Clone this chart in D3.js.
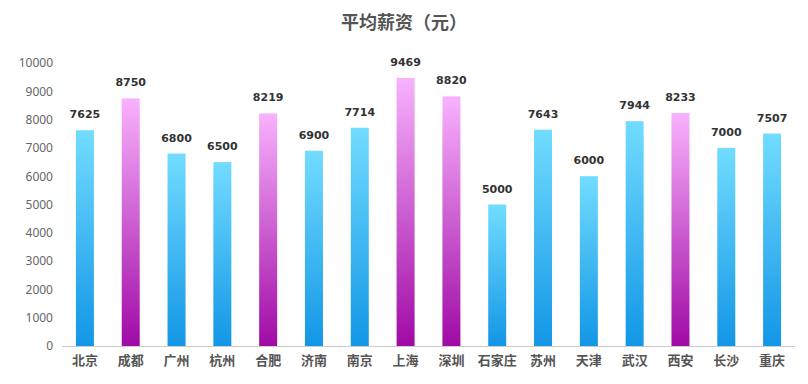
<!DOCTYPE html>
<html>
<head>
<meta charset="utf-8">
<script src="https://cdn.jsdelivr.net/npm/d3@7"></script>
<style>
  body { margin: 0; background: #fff; }
  text { font-family: "Microsoft YaHei", "Noto Sans CJK SC", sans-serif; }
</style>
</head>
<body>
<div id="chart"></div>
<script>
let cities = ["北京", "成都", "广州", "杭州", "合肥", "济南", "南京", "上海",
  "深圳", "石家庄", "苏州", "天津", "武汉", "西安", "长沙", "重庆"]
let salaries = [7625, 8750, 6800, 6500, 8219, 6900, 7714, 9469,
  8820, 5000, 7643, 6000, 7944, 8233, 7000, 7507]
let yTicks = [0, 1000, 2000, 3000, 4000, 5000, 6000, 7000, 8000, 9000, 10000]
let title = "平均薪资（元）"

let W = 808, H = 384
let plotLeft = 62, plotRight = 795, plotTop = 63, plotBottom = 346

let svg = d3.select("#chart").append("svg")
  .attr("width", W)
  .attr("height", H)

// グラデーション
let defs = svg.append("defs")
function grad(id, c1, c2) {
  let g = defs.append("linearGradient").attr("id", id)
    .attr("x1", 0).attr("y1", 0).attr("x2", 0).attr("y2", 1)
  g.append("stop").attr("offset", "0%").attr("stop-color", c1)
  g.append("stop").attr("offset", "100%").attr("stop-color", c2)
}
grad("blue", "#72dcff", "#1296e6")
grad("pink", "#f8b2fd", "#a00aa5")

let x = d3.scaleBand().domain(cities).range([plotLeft, plotRight])
let y = d3.scaleLinear().domain([0, 10000]).range([plotBottom, plotTop])
let barW = 18

// タイトル
svg.append("text")
  .attr("x", W / 2).attr("y", 29)
  .attr("text-anchor", "middle")
  .attr("font-size", "18px")
  .attr("font-weight", "bold")
  .attr("fill", "#555")
  .text(title)

// Y軸
let gy = svg.append("g")
  .attr("transform", `translate(${plotLeft},0)`)
  .call(d3.axisLeft(y).tickValues(yTicks).tickFormat(d3.format("d")).tickSize(0).tickPadding(9))
gy.select(".domain").remove()
gy.selectAll("text").attr("font-size", "12px").attr("fill", "#666")
  .style("font-family", "'Noto Sans', sans-serif")

// バー
svg.selectAll("rect.bar")
  .data(salaries)
  .enter()
  .append("rect")
  .attr("class", "bar")
  .attr("x", (d, i) => x(cities[i]) + x.bandwidth() / 2 - barW / 2)
  .attr("y", d => y(d))
  .attr("width", barW)
  .attr("height", d => plotBottom - y(d))
  .attr("fill", d => d > 8000 ? "url(#pink)" : "url(#blue)")

// 値ラベル
svg.selectAll("text.val")
  .data(salaries)
  .enter()
  .append("text")
  .attr("class", "val")
  .attr("x", (d, i) => x(cities[i]) + x.bandwidth() / 2)
  .attr("y", d => y(d) - 12)
  .attr("text-anchor", "middle")
  .attr("font-size", "11px")
  .attr("font-weight", "bold")
  .attr("fill", "#333")
  .style("font-family", "'DejaVu Sans', sans-serif")
  .text(d => d)

// X軸
let gx = svg.append("g")
  .attr("transform", `translate(0,${plotBottom})`)
  .call(d3.axisBottom(x).tickSize(0).tickPadding(10))
gx.select(".domain").attr("stroke", "#ccc").attr("d", `M${plotLeft},0.5H${plotRight}`)
gx.selectAll("text").attr("font-size", "13px").attr("font-weight", "bold").attr("fill", "#555")
  .style("font-family", "'Noto Sans CJK SC', sans-serif")
</script>
</body>
</html>
